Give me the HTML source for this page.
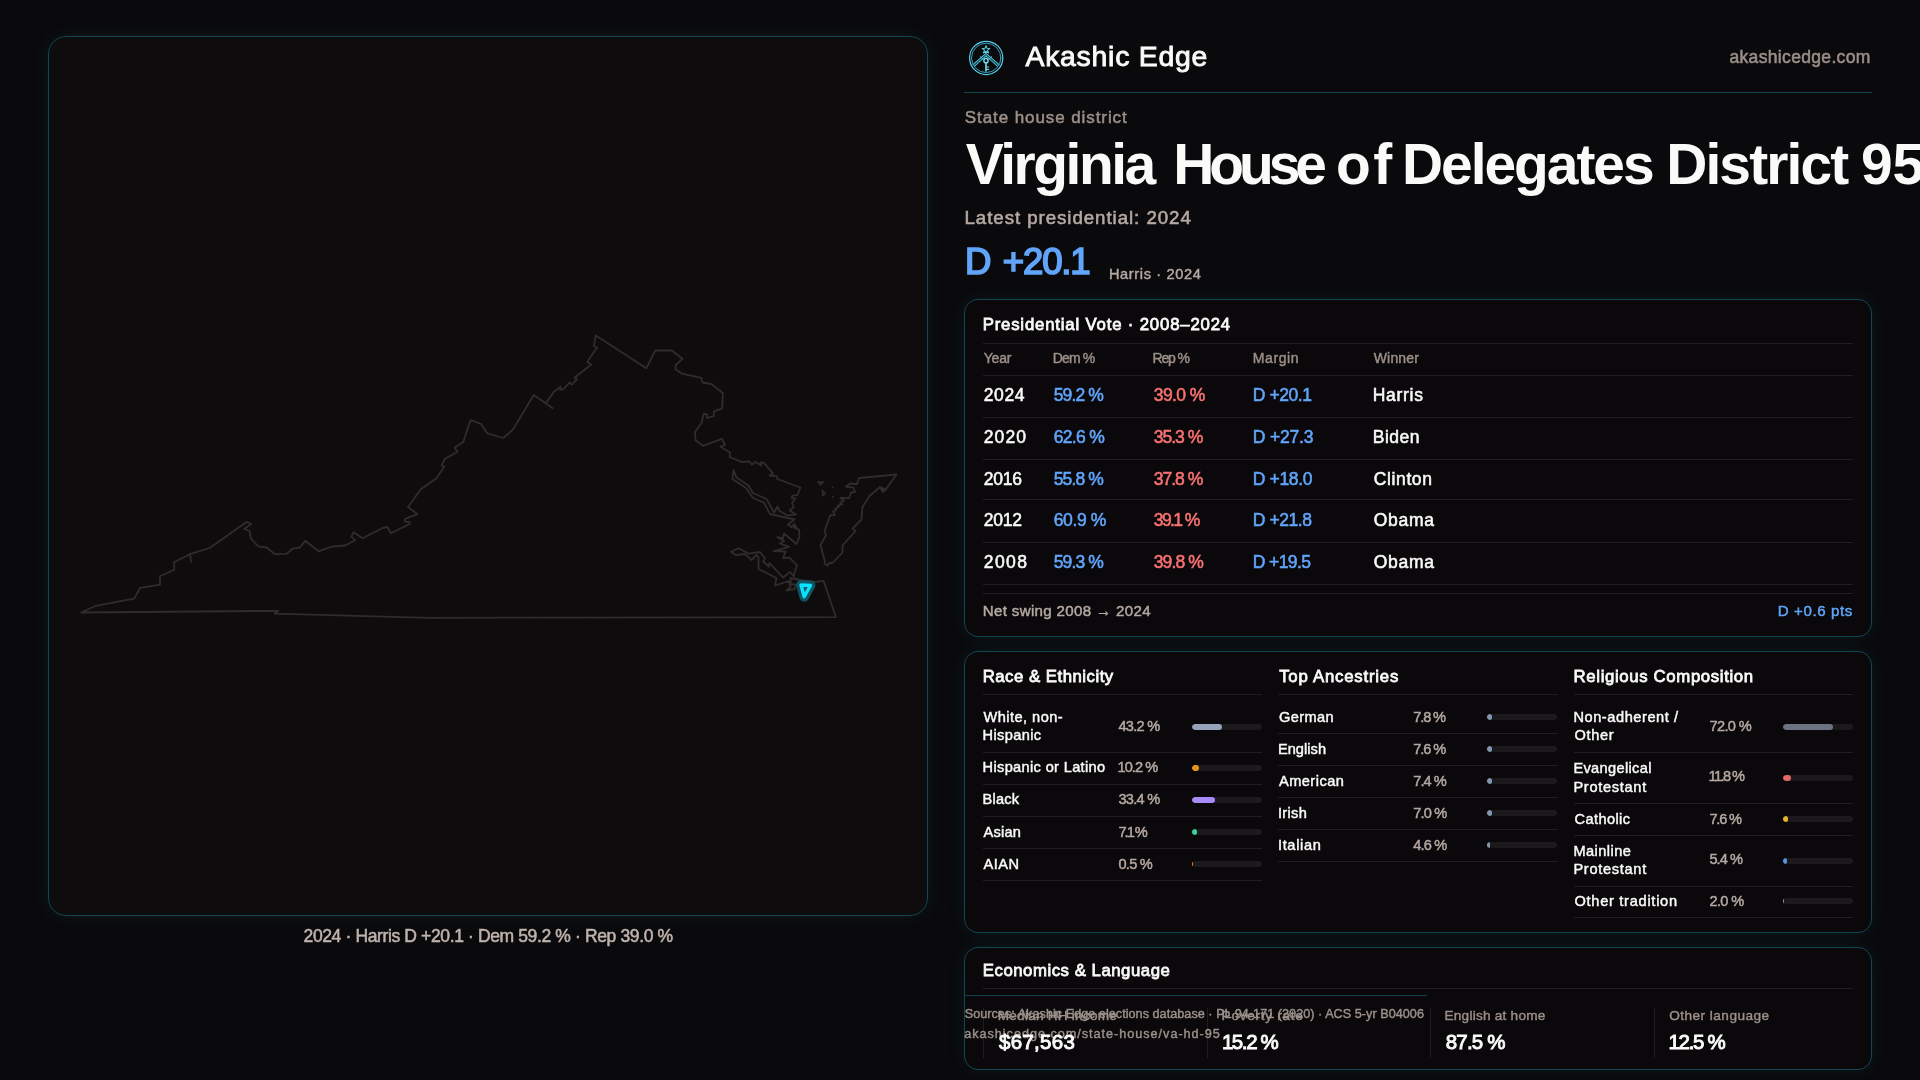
<!DOCTYPE html>
<html lang="en">
<head>
<meta charset="utf-8">
<title>Virginia House of Delegates District 95 · Akashic Edge</title>
<style>
html,body{margin:0;padding:0}
body{width:1920px;height:1080px;overflow:hidden;background:#0a090b;position:relative;
  font-family:"Liberation Sans",sans-serif;font-weight:normal;color:#fafaf9}
.t{position:absolute;white-space:pre;line-height:1}
.panel{position:absolute;box-sizing:border-box;border:1px solid #134552;border-radius:14px;background:#0a080a;
  box-shadow:0 0 20px rgba(34,211,238,.08)}
#map{left:48px;top:36px;width:880px;height:880px;border-radius:18px;background:#0e0c0d;
  box-shadow:0 0 22px rgba(34,211,238,.08)}
#map svg{position:absolute;left:-1px;top:-1px}
#p1{left:964px;top:299px;width:908px;height:338px}
#p2{left:964px;top:651px;width:908px;height:282px}
#p3{left:964px;top:947px;width:908px;height:123px}
.hl{position:absolute;height:1px;background:#1f1d1f}
.vl{position:absolute;width:1px;background:#1f1d1f}
.trk{position:absolute;width:70px;height:6px;border-radius:3px;background:#1b191b;overflow:hidden}
.trk i{display:block;height:6px;border-radius:3px}
#txt{position:absolute;left:0;top:0;width:1920px;height:1080px;will-change:transform}
#logo{position:absolute;left:966px;top:37px;width:40px;height:40px}
</style>
</head>
<body>
<div id="map" class="panel">
<svg width="880" height="880" viewBox="48 36 880 880" fill="none" stroke="#302c2c" stroke-width="1.8" stroke-linejoin="round" stroke-linecap="round">
<path d="M81.3,612.5 L95.8,605.8 L134.2,598.7 L140,587.8 L160,584.7 L160,576.2 L174.2,569.7 L174.2,562 L190,554.2 L209.7,548 L247,521.7 L251.2,524.2 L244.2,528.7 L249.7,531.3 L250.8,538.7 L258.3,546.3 L266.7,547.5 L275,554.2 L286.7,553.8 L292.5,548.7 L300,547.5 L305.3,540.8 L318.7,551.3 L331.7,546.7 L345,545.5 L355.3,540.3 L351.3,536.7 L353.7,532.2 L362.5,538.3 L382.5,528 L387.3,527 L390.8,533.3 L409.2,524.2 L410,522.2 L404.7,521.7 L405,518.8 L417.5,514.2 L408,507 L420.8,489.2 L436.7,478 L444.2,466.7 L441.7,465.3 L445,458.7 L457.5,451.7 L454.7,447.8 L463.3,442 L470.5,420 L481.2,424.2 L487.2,433.3 L503.3,438 L513,429.5 L533.7,395 L545.8,403.3 L554.2,391.5 L560.8,386.7 L560.2,389.8 L563.3,389.2 L569.6,382.5 L572,384.6 L577,379.2 L574.5,377.8 L591.2,364.5 L587.2,361.7 L597.2,347.5 L593.8,346.2 L595.8,335.5 L646.3,368.3 L655.3,350.5 L671.7,350.5 L682.5,358.8 L675.8,365 L675.5,369.2 L682,373.7 L701.3,377.8 L702.5,382.5 L711.7,384.2 L722.8,393 L722.2,408.3 L714.2,411.3 L713.8,416.2 L706.7,418 L707.2,414.5 L703.7,413.7 L701.7,422.5 L695,432 L695.5,440.3 L703,445.8 L722,438.8 L725,445 L720.5,446.7 L730,452.5 L729.7,457 L742.2,462.2 L749.3,461.3 L752,464.7 L755,461.8 L761.2,465.5 L760.4,462.7 L763.8,462.6 L773,473.4 L769.6,475.6 L777,476.1 L777.3,479 L800.4,487.5 L797.4,495.1 L792.3,495.6 L791.9,498.2 L795.5,498.4 L792,503 L793.8,507 L789.7,510.5 L796,514.5 L787,515.3 L779,510.5 L777.5,506.5 L774,512.5 L766.5,499 L753,493 L748.5,485.5 L736.5,477.5 L733.5,470 L732.5,479 L746,488 L753,498 L764,502.8 L770,514 L794.5,519.5 L788,524.5 L791.5,527.2 L794.5,524 L797,529 L799,529.5 L799.5,537 L796.5,544 L784,533.5 L783,538.3 L777.5,537.2 L784,540.9 L780,543.5 L789,546.8 L773.5,551 L785.7,551.5 L783,558 L789.5,557.7 L797,565.5 L794,574 L794,576.5 L790,572 L783,577.5 L769.5,563 L769,566.5 L763,561.5 L765,558.5 L760,552 L749,553.7 L738.5,548.2 L731,551.8 L736,555 L745,554 L751.5,560 L756.5,554.9 L758.5,557.3 L758.5,569 L776.5,578 L775,585.5 L789,581 L790.5,587 L786.5,590.5 L795,589 L795.5,584.5 L791,584 L790.5,578 L800,580 L815,582 L823.5,580.8 L836,617.2 L429,617.8 L274.7,613.7 L278.3,610.8 Z"/>
<path d="M190,554.2 L191,562 M545.8,403.3 L552.5,408.3"/>
<path d="M896.5,474.5 L859,478 L857,484 L850,483.5 L846,486.8 L853.5,487.5 L855,492.2 L851,492.5 L849,498.2 L840.5,498 L844,500.8 L840,502.8 L842.5,504.2 L837.5,505.5 L839,507 L835,508.5 L836.5,509.8 L833,511.5 L835,515 L830,515.5 L824.5,531.5 L826,535.5 L820.5,545 L825,562 L824.5,564 L828,565.5 L828.5,563.5 L833,562.5 L842.5,552.5 L842.5,545.5 L855.5,531 L852.5,528.5 L861.5,519.5 L862.5,507 L869.5,496 L880,487 L883,492 L886,489 Z"/>
<path d="M817.8,481.7 L823.8,481.7 L820.6,485.3 Z M822.3,489.8 L825.8,493.6 L823,495.8 Z" fill="#2c2929" stroke-width="1"/>
<path d="M880,487 L883.2,492.2 L886.2,489 Z M792.6,525.6 L795,524.4 L797,529 L794.4,528.4 Z" fill="#302c2c" stroke-width=".8"/>
<circle cx="832.5" cy="487.3" r="0.6" fill="#2c2929" stroke-width=".8"/><circle cx="833" cy="496.8" r="0.6" fill="#2c2929" stroke-width=".8"/>
<path d="M801,585 L810.6,585.3 L804.2,596.8 Z" stroke="#0f5563" stroke-width="9.6" fill="#0f5563"/>
<path d="M801,585 L810.6,585.3 L804.2,596.8 Z" stroke="#09e2ff" stroke-width="3.3" fill="#1d5b66"/>
</svg>

</div>
<div id="p1" class="panel"></div>
<div id="p2" class="panel"></div>
<div id="p3" class="panel"></div>

<!-- header rule -->
<div class="hl" style="left:964px;top:92px;width:908px;background:#144652"></div>
<svg id="logo" viewBox="0 0 40 40" fill="none" stroke="#55cde6" stroke-width="1" stroke-linecap="round" stroke-linejoin="round">
<circle cx="20.2" cy="20.9" r="16.6" stroke-width="1.25"/>
<circle cx="20.2" cy="20.9" r="14.7" stroke="#38aac4" stroke-width=".95"/>
<path d="M20.0,8.6 L21.0,11.3 L23.9,11.4 L21.6,13.2 L22.4,16.0 L20.0,14.3 L17.6,16.0 L18.4,13.2 L16.1,11.4 L19.0,11.3 Z" stroke-width="1.05" fill="none"/>
<path d="M17.4,15.5 H22.6" stroke-width="1"/>
<path d="M20,17.6 L7.6,28.3 M20,17.6 L32.4,28.3" stroke="#2f9db6" stroke-width="2.6" stroke-opacity=".55" stroke-linecap="butt"/>
<path d="M20,16.3 L6.9,27.6 M20,19 L9,28.9 M14.2,19.6 L16.4,21.6" stroke-width=".95"/>
<path d="M20,16.3 L33.1,27.6 M20,19 L31,28.9 M25.8,19.6 L23.6,21.6" stroke-width=".95"/>
<circle cx="20" cy="23.7" r="2.1" stroke-width="1.5" stroke="#6bd8ec"/>
<path d="M20,26.4 V33.8" stroke-width="1.7" stroke="#6bd8ec"/>
<path d="M20.5,30 H22.7 M20.5,32.3 H22.7" stroke-width="1.2" stroke="#6bd8ec"/>
</svg>


<!-- panel 1 rules -->
<div class="hl" style="left:983px;top:343px;width:870px"></div>
<div class="hl" style="left:983px;top:375px;width:870px"></div>
<div class="hl" style="left:983px;top:417px;width:870px"></div>
<div class="hl" style="left:983px;top:459px;width:870px"></div>
<div class="hl" style="left:983px;top:499px;width:870px"></div>
<div class="hl" style="left:983px;top:542px;width:870px"></div>
<div class="hl" style="left:983px;top:584px;width:870px"></div>
<div class="hl" style="left:983px;top:593px;width:870px"></div>

<!-- panel 2 title rules -->
<div class="hl" style="left:983px;top:694px;width:279.3px"></div>
<div class="hl" style="left:1278.4px;top:694px;width:279.3px"></div>
<div class="hl" style="left:1573.9px;top:694px;width:279.3px"></div>

<!-- panel 3 rules -->
<div class="hl" style="left:983px;top:988px;width:870px"></div>
<div class="vl" style="left:983px;top:1008px;height:50px"></div>
<div class="vl" style="left:1207px;top:1008px;height:50px"></div>
<div class="vl" style="left:1430px;top:1008px;height:50px"></div>
<div class="vl" style="left:1654px;top:1008px;height:50px"></div>
<!-- footer rule -->
<div class="hl" style="left:964px;top:995px;width:462.5px;background:#12404b"></div>

<div class="trk" style="left:1192.00px;top:724.25px"><i style="width:30.24px;background:#94a3b8"></i></div>
<div class="hl" style="left:983.00px;top:752.00px;width:279.30px;background:#1f1d1f"></div>
<div class="trk" style="left:1192.00px;top:765.00px"><i style="width:7.14px;background:#e8961c"></i></div>
<div class="hl" style="left:983.00px;top:784.00px;width:279.30px;background:#1f1d1f"></div>
<div class="trk" style="left:1192.00px;top:797.00px"><i style="width:23.38px;background:#a78bfa"></i></div>
<div class="hl" style="left:983.00px;top:816.00px;width:279.30px;background:#1f1d1f"></div>
<div class="trk" style="left:1192.00px;top:829.00px"><i style="width:4.97px;background:#34d399"></i></div>
<div class="hl" style="left:983.00px;top:848.00px;width:279.30px;background:#1f1d1f"></div>
<div class="trk" style="left:1192.00px;top:861.00px"><i style="width:1.00px;background:#f97316"></i></div>
<div class="hl" style="left:983.00px;top:879.90px;width:279.30px;background:#1f1d1f"></div>
<div class="trk" style="left:1487.00px;top:714.00px"><i style="width:5.46px;background:#8494b0"></i></div>
<div class="hl" style="left:1278.40px;top:733.20px;width:279.30px;background:#1f1d1f"></div>
<div class="trk" style="left:1487.00px;top:746.20px"><i style="width:5.32px;background:#8494b0"></i></div>
<div class="hl" style="left:1278.40px;top:764.90px;width:279.30px;background:#1f1d1f"></div>
<div class="trk" style="left:1487.00px;top:777.90px"><i style="width:5.18px;background:#8494b0"></i></div>
<div class="hl" style="left:1278.40px;top:796.70px;width:279.30px;background:#1f1d1f"></div>
<div class="trk" style="left:1487.00px;top:809.70px"><i style="width:4.90px;background:#8494b0"></i></div>
<div class="hl" style="left:1278.40px;top:828.80px;width:279.30px;background:#1f1d1f"></div>
<div class="trk" style="left:1487.00px;top:841.80px"><i style="width:3.22px;background:#8494b0"></i></div>
<div class="hl" style="left:1278.40px;top:860.80px;width:279.30px;background:#1f1d1f"></div>
<div class="trk" style="left:1783.00px;top:724.00px"><i style="width:50.40px;background:#6b7280"></i></div>
<div class="hl" style="left:1573.90px;top:751.70px;width:279.30px;background:#1f1d1f"></div>
<div class="trk" style="left:1783.00px;top:775.00px"><i style="width:8.26px;background:#e26868"></i></div>
<div class="hl" style="left:1573.90px;top:802.80px;width:279.30px;background:#1f1d1f"></div>
<div class="trk" style="left:1783.00px;top:815.80px"><i style="width:5.32px;background:#eab22a"></i></div>
<div class="hl" style="left:1573.90px;top:835.00px;width:279.30px;background:#1f1d1f"></div>
<div class="trk" style="left:1783.00px;top:858.20px"><i style="width:3.78px;background:#5b93e6"></i></div>
<div class="hl" style="left:1573.90px;top:885.80px;width:279.30px;background:#1f1d1f"></div>
<div class="trk" style="left:1783.00px;top:898.00px"><i style="width:1.40px;background:#8a8f99"></i></div>
<div class="hl" style="left:1573.90px;top:917.00px;width:279.30px;background:#1f1d1f"></div>
<div id="txt">
<span class="t" style="left:1025.44px;top:42px;font-size:28.42px;color:#fafaf9;-webkit-text-stroke:0.89px;letter-spacing:0.746px;">Akashic Edge</span>
<span class="t" style="left:1729.48px;top:49px;font-size:17.52px;color:#9c8f88;-webkit-text-stroke:0.55px;letter-spacing:0.324px;">akashicedge.com</span>
<span class="t" style="left:964.76px;top:109px;font-size:17.03px;color:#9c8f88;-webkit-text-stroke:0.53px;letter-spacing:0.910px;">State house district</span>
<span class="t" style="left:965.80px;top:136px;font-size:56.95px;color:#fafaf9;font-weight:bold;letter-spacing:-2.489px;">Virginia</span>
<span class="t" style="left:1173.20px;top:136px;font-size:56.95px;color:#fafaf9;font-weight:bold;letter-spacing:-5.061px;">House</span>
<span class="t" style="left:1336.00px;top:136px;font-size:56.95px;color:#fafaf9;font-weight:bold;letter-spacing:2.520px;">of</span>
<span class="t" style="left:1402.00px;top:136px;font-size:56.95px;color:#fafaf9;font-weight:bold;letter-spacing:-2.043px;">Delegates</span>
<span class="t" style="left:1666.20px;top:136px;font-size:56.95px;color:#fafaf9;font-weight:bold;letter-spacing:-1.887px;">District</span>
<span class="t" style="left:1861.00px;top:136px;font-size:56.95px;color:#fafaf9;font-weight:bold;letter-spacing:-0.166px;">95</span>
<span class="t" style="left:964.49px;top:209px;font-size:18.69px;color:#b5a9a2;-webkit-text-stroke:0.58px;letter-spacing:0.945px;">Latest presidential: 2024</span>
<span class="t" style="left:965.05px;top:244px;font-size:36.6px;color:#60a5fa;-webkit-text-stroke:1.7px;">D</span>
<span class="t" style="left:1002.85px;top:244px;font-size:36.6px;color:#60a5fa;-webkit-text-stroke:1.7px;letter-spacing:-1.177px;">+20.1</span>
<span class="t" style="left:1108.93px;top:267px;font-size:14.6px;color:#b5a9a2;-webkit-text-stroke:0.46px;letter-spacing:0.626px;">Harris · 2024</span>
<span class="t" style="left:303.52px;top:928px;font-size:17.52px;color:#beb2ac;-webkit-text-stroke:0.55px;letter-spacing:-0.379px;">2024 · Harris D +20.1 · Dem 59.2 % · Rep 39.0 %</span>
<span class="t" style="left:982.64px;top:317px;font-size:16.78px;color:#fafaf9;-webkit-text-stroke:0.78px;letter-spacing:0.818px;">Presidential Vote · 2008–2024</span>
<span class="t" style="left:983.72px;top:351px;font-size:14.01px;color:#9c8f88;-webkit-text-stroke:0.44px;letter-spacing:-0.188px;">Year</span>
<span class="t" style="left:1052.72px;top:351px;font-size:14.01px;color:#9c8f88;-webkit-text-stroke:0.44px;letter-spacing:-0.847px;">Dem %</span>
<span class="t" style="left:1152.47px;top:351px;font-size:14.01px;color:#9c8f88;-webkit-text-stroke:0.44px;letter-spacing:-1.128px;">Rep %</span>
<span class="t" style="left:1252.72px;top:351px;font-size:14.01px;color:#9c8f88;-webkit-text-stroke:0.44px;letter-spacing:0.611px;">Margin</span>
<span class="t" style="left:1373.72px;top:351px;font-size:14.01px;color:#9c8f88;-webkit-text-stroke:0.44px;letter-spacing:0.175px;">Winner</span>
<span class="t" style="left:983.77px;top:387px;font-size:17.52px;color:#fafaf9;-webkit-text-stroke:0.55px;letter-spacing:0.575px;">2024</span>
<span class="t" style="left:1053.78px;top:387px;font-size:17.52px;color:#60a5fa;-webkit-text-stroke:0.55px;letter-spacing:-0.901px;">59.2 %</span>
<span class="t" style="left:1153.78px;top:387px;font-size:17.52px;color:#f87171;-webkit-text-stroke:0.55px;letter-spacing:-0.601px;">39.0 %</span>
<span class="t" style="left:1252.78px;top:387px;font-size:17.52px;color:#60a5fa;-webkit-text-stroke:0.55px;letter-spacing:-0.441px;">D +20.1</span>
<span class="t" style="left:1372.78px;top:387px;font-size:17.52px;color:#fafaf9;-webkit-text-stroke:0.55px;letter-spacing:0.700px;">Harris</span>
<span class="t" style="left:983.77px;top:429px;font-size:17.52px;color:#fafaf9;-webkit-text-stroke:0.55px;letter-spacing:1.075px;">2020</span>
<span class="t" style="left:1053.78px;top:429px;font-size:17.52px;color:#60a5fa;-webkit-text-stroke:0.55px;letter-spacing:-0.701px;">62.6 %</span>
<span class="t" style="left:1153.78px;top:429px;font-size:17.52px;color:#f87171;-webkit-text-stroke:0.55px;letter-spacing:-1.001px;">35.3 %</span>
<span class="t" style="left:1252.78px;top:429px;font-size:17.52px;color:#60a5fa;-webkit-text-stroke:0.55px;letter-spacing:-0.191px;">D +27.3</span>
<span class="t" style="left:1372.78px;top:429px;font-size:17.52px;color:#fafaf9;-webkit-text-stroke:0.55px;letter-spacing:0.473px;">Biden</span>
<span class="t" style="left:983.77px;top:471px;font-size:17.52px;color:#fafaf9;-webkit-text-stroke:0.55px;letter-spacing:-0.258px;">2016</span>
<span class="t" style="left:1053.78px;top:471px;font-size:17.52px;color:#60a5fa;-webkit-text-stroke:0.55px;letter-spacing:-0.901px;">55.8 %</span>
<span class="t" style="left:1153.78px;top:471px;font-size:17.52px;color:#f87171;-webkit-text-stroke:0.55px;letter-spacing:-1.001px;">37.8 %</span>
<span class="t" style="left:1252.78px;top:471px;font-size:17.52px;color:#60a5fa;-webkit-text-stroke:0.55px;letter-spacing:-0.357px;">D +18.0</span>
<span class="t" style="left:1373.78px;top:471px;font-size:17.52px;color:#fafaf9;-webkit-text-stroke:0.55px;letter-spacing:0.611px;">Clinton</span>
<span class="t" style="left:983.77px;top:512px;font-size:17.52px;color:#fafaf9;-webkit-text-stroke:0.55px;letter-spacing:-0.258px;">2012</span>
<span class="t" style="left:1053.78px;top:512px;font-size:17.52px;color:#60a5fa;-webkit-text-stroke:0.55px;letter-spacing:-0.401px;">60.9 %</span>
<span class="t" style="left:1153.78px;top:512px;font-size:17.52px;color:#f87171;-webkit-text-stroke:0.55px;letter-spacing:-1.601px;">39.1 %</span>
<span class="t" style="left:1252.78px;top:512px;font-size:17.52px;color:#60a5fa;-webkit-text-stroke:0.55px;letter-spacing:-0.441px;">D +21.8</span>
<span class="t" style="left:1373.78px;top:512px;font-size:17.52px;color:#fafaf9;-webkit-text-stroke:0.55px;letter-spacing:0.688px;">Obama</span>
<span class="t" style="left:983.77px;top:554px;font-size:17.52px;color:#fafaf9;-webkit-text-stroke:0.55px;letter-spacing:1.409px;">2008</span>
<span class="t" style="left:1053.78px;top:554px;font-size:17.52px;color:#60a5fa;-webkit-text-stroke:0.55px;letter-spacing:-0.901px;">59.3 %</span>
<span class="t" style="left:1153.78px;top:554px;font-size:17.52px;color:#f87171;-webkit-text-stroke:0.55px;letter-spacing:-0.901px;">39.8 %</span>
<span class="t" style="left:1252.78px;top:554px;font-size:17.52px;color:#60a5fa;-webkit-text-stroke:0.55px;letter-spacing:-0.607px;">D +19.5</span>
<span class="t" style="left:1373.78px;top:554px;font-size:17.52px;color:#fafaf9;-webkit-text-stroke:0.55px;letter-spacing:0.688px;">Obama</span>
<span class="t" style="left:982.74px;top:603px;font-size:15.09px;color:#b5a9a2;-webkit-text-stroke:0.47px;letter-spacing:0.349px;">Net swing 2008 → 2024</span>
<span class="t" style="left:1777.73px;top:603px;font-size:15.09px;color:#60a5fa;-webkit-text-stroke:0.47px;letter-spacing:0.602px;">D +0.6 pts</span>
<span class="t" style="left:982.64px;top:669px;font-size:16.78px;color:#fafaf9;-webkit-text-stroke:0.78px;letter-spacing:0.507px;">Race &amp; Ethnicity</span>
<span class="t" style="left:1279.14px;top:669px;font-size:16.78px;color:#fafaf9;-webkit-text-stroke:0.78px;letter-spacing:0.780px;">Top Ancestries</span>
<span class="t" style="left:1573.59px;top:669px;font-size:16.78px;color:#fafaf9;-webkit-text-stroke:0.78px;letter-spacing:0.637px;">Religious Composition</span>
<span class="t" style="left:982.79px;top:963px;font-size:16.78px;color:#fafaf9;-webkit-text-stroke:0.78px;letter-spacing:0.524px;">Economics &amp; Language</span>
<span class="t" style="left:964.70px;top:1008px;font-size:12.65px;color:#9d928b;-webkit-text-stroke:0.4px;letter-spacing:0.030px;">Sources: Akashic Edge elections database · PL 94-171 (2020) · ACS 5-yr B04006</span>
<span class="t" style="left:964.20px;top:1028px;font-size:12.65px;color:#9d928b;-webkit-text-stroke:0.4px;letter-spacing:0.980px;">akashicedge.com/state-house/va-hd-95</span>
<span class="t" style="left:997.72px;top:1009px;font-size:13.63px;color:#9c8f88;-webkit-text-stroke:0.43px;letter-spacing:0.219px;">Median HH income</span>
<span class="t" style="left:998.98px;top:1032px;font-size:20.49px;color:#fafaf9;-webkit-text-stroke:0.95px;letter-spacing:0.316px;">$67,563</span>
<span class="t" style="left:1221.62px;top:1009px;font-size:13.63px;color:#9c8f88;-webkit-text-stroke:0.43px;letter-spacing:0.699px;">Poverty rate</span>
<span class="t" style="left:1221.88px;top:1032px;font-size:20.49px;color:#fafaf9;-webkit-text-stroke:0.95px;letter-spacing:-1.402px;">15.2 %</span>
<span class="t" style="left:1444.51px;top:1009px;font-size:13.63px;color:#9c8f88;-webkit-text-stroke:0.43px;letter-spacing:0.225px;">English at home</span>
<span class="t" style="left:1445.77px;top:1032px;font-size:20.49px;color:#fafaf9;-webkit-text-stroke:0.95px;letter-spacing:-0.822px;">87.5 %</span>
<span class="t" style="left:1669.21px;top:1009px;font-size:13.63px;color:#9c8f88;-webkit-text-stroke:0.43px;letter-spacing:0.463px;">Other language</span>
<span class="t" style="left:1668.47px;top:1032px;font-size:20.49px;color:#fafaf9;-webkit-text-stroke:0.95px;letter-spacing:-1.302px;">12.5 %</span>
<span class="t" style="left:983.53px;top:710px;font-size:14.6px;color:#fafaf9;-webkit-text-stroke:0.46px;letter-spacing:0.448px;">White, non-</span>
<span class="t" style="left:982.53px;top:728px;font-size:14.6px;color:#fafaf9;-webkit-text-stroke:0.46px;letter-spacing:0.367px;">Hispanic</span>
<span class="t" style="left:1118.48px;top:719px;font-size:14.6px;color:#b5a9a2;-webkit-text-stroke:0.46px;letter-spacing:-0.734px;">43.2 %</span>
<span class="t" style="left:982.53px;top:760px;font-size:14.6px;color:#fafaf9;-webkit-text-stroke:0.46px;letter-spacing:0.344px;">Hispanic or Latino</span>
<span class="t" style="left:1117.48px;top:760px;font-size:14.6px;color:#b5a9a2;-webkit-text-stroke:0.46px;letter-spacing:-0.924px;">10.2 %</span>
<span class="t" style="left:982.53px;top:792px;font-size:14.6px;color:#fafaf9;-webkit-text-stroke:0.46px;letter-spacing:0.213px;">Black</span>
<span class="t" style="left:1118.48px;top:792px;font-size:14.6px;color:#b5a9a2;-webkit-text-stroke:0.46px;letter-spacing:-0.734px;">33.4 %</span>
<span class="t" style="left:983.53px;top:825px;font-size:14.6px;color:#fafaf9;-webkit-text-stroke:0.46px;letter-spacing:0.213px;">Asian</span>
<span class="t" style="left:1118.48px;top:825px;font-size:14.6px;color:#b5a9a2;-webkit-text-stroke:0.46px;letter-spacing:-2.000px;">7.1 %</span>
<span class="t" style="left:983.53px;top:857px;font-size:14.6px;color:#fafaf9;-webkit-text-stroke:0.46px;letter-spacing:0.473px;">AIAN</span>
<span class="t" style="left:1118.48px;top:857px;font-size:14.6px;color:#b5a9a2;-webkit-text-stroke:0.46px;letter-spacing:-0.750px;">0.5 %</span>
<span class="t" style="left:1278.93px;top:710px;font-size:14.6px;color:#fafaf9;-webkit-text-stroke:0.46px;letter-spacing:0.388px;">German</span>
<span class="t" style="left:1413.23px;top:710px;font-size:14.6px;color:#b5a9a2;-webkit-text-stroke:0.46px;letter-spacing:-1.125px;">7.8 %</span>
<span class="t" style="left:1277.93px;top:742px;font-size:14.6px;color:#fafaf9;-webkit-text-stroke:0.46px;letter-spacing:0.049px;">English</span>
<span class="t" style="left:1413.23px;top:742px;font-size:14.6px;color:#b5a9a2;-webkit-text-stroke:0.46px;letter-spacing:-1.075px;">7.6 %</span>
<span class="t" style="left:1278.93px;top:774px;font-size:14.6px;color:#fafaf9;-webkit-text-stroke:0.46px;letter-spacing:0.474px;">American</span>
<span class="t" style="left:1413.23px;top:774px;font-size:14.6px;color:#b5a9a2;-webkit-text-stroke:0.46px;letter-spacing:-0.950px;">7.4 %</span>
<span class="t" style="left:1277.93px;top:806px;font-size:14.6px;color:#fafaf9;-webkit-text-stroke:0.46px;letter-spacing:0.347px;">Irish</span>
<span class="t" style="left:1413.23px;top:806px;font-size:14.6px;color:#b5a9a2;-webkit-text-stroke:0.46px;letter-spacing:-0.825px;">7.0 %</span>
<span class="t" style="left:1277.93px;top:838px;font-size:14.6px;color:#fafaf9;-webkit-text-stroke:0.46px;letter-spacing:0.669px;">Italian</span>
<span class="t" style="left:1413.23px;top:838px;font-size:14.6px;color:#b5a9a2;-webkit-text-stroke:0.46px;letter-spacing:-0.825px;">4.6 %</span>
<span class="t" style="left:1573.43px;top:710px;font-size:14.6px;color:#fafaf9;-webkit-text-stroke:0.46px;letter-spacing:0.557px;">Non-adherent /</span>
<span class="t" style="left:1574.43px;top:728px;font-size:14.6px;color:#fafaf9;-webkit-text-stroke:0.46px;letter-spacing:0.650px;">Other</span>
<span class="t" style="left:1709.43px;top:719px;font-size:14.6px;color:#b5a9a2;-webkit-text-stroke:0.46px;letter-spacing:-0.624px;">72.0 %</span>
<span class="t" style="left:1573.43px;top:761px;font-size:14.6px;color:#fafaf9;-webkit-text-stroke:0.46px;letter-spacing:0.335px;">Evangelical</span>
<span class="t" style="left:1573.43px;top:780px;font-size:14.6px;color:#fafaf9;-webkit-text-stroke:0.46px;letter-spacing:0.697px;">Protestant</span>
<span class="t" style="left:1708.43px;top:769px;font-size:14.6px;color:#b5a9a2;-webkit-text-stroke:0.46px;letter-spacing:-1.547px;">11.8 %</span>
<span class="t" style="left:1574.43px;top:812px;font-size:14.6px;color:#fafaf9;-webkit-text-stroke:0.46px;letter-spacing:0.416px;">Catholic</span>
<span class="t" style="left:1709.43px;top:812px;font-size:14.6px;color:#b5a9a2;-webkit-text-stroke:0.46px;letter-spacing:-1.200px;">7.6 %</span>
<span class="t" style="left:1573.43px;top:844px;font-size:14.6px;color:#fafaf9;-webkit-text-stroke:0.46px;letter-spacing:0.444px;">Mainline</span>
<span class="t" style="left:1573.43px;top:862px;font-size:14.6px;color:#fafaf9;-webkit-text-stroke:0.46px;letter-spacing:0.697px;">Protestant</span>
<span class="t" style="left:1709.43px;top:852px;font-size:14.6px;color:#b5a9a2;-webkit-text-stroke:0.46px;letter-spacing:-0.925px;">5.4 %</span>
<span class="t" style="left:1574.43px;top:894px;font-size:14.6px;color:#fafaf9;-webkit-text-stroke:0.46px;letter-spacing:0.727px;">Other tradition</span>
<span class="t" style="left:1709.43px;top:894px;font-size:14.6px;color:#b5a9a2;-webkit-text-stroke:0.46px;letter-spacing:-0.650px;">2.0 %</span>
</div>
</body>
</html>
